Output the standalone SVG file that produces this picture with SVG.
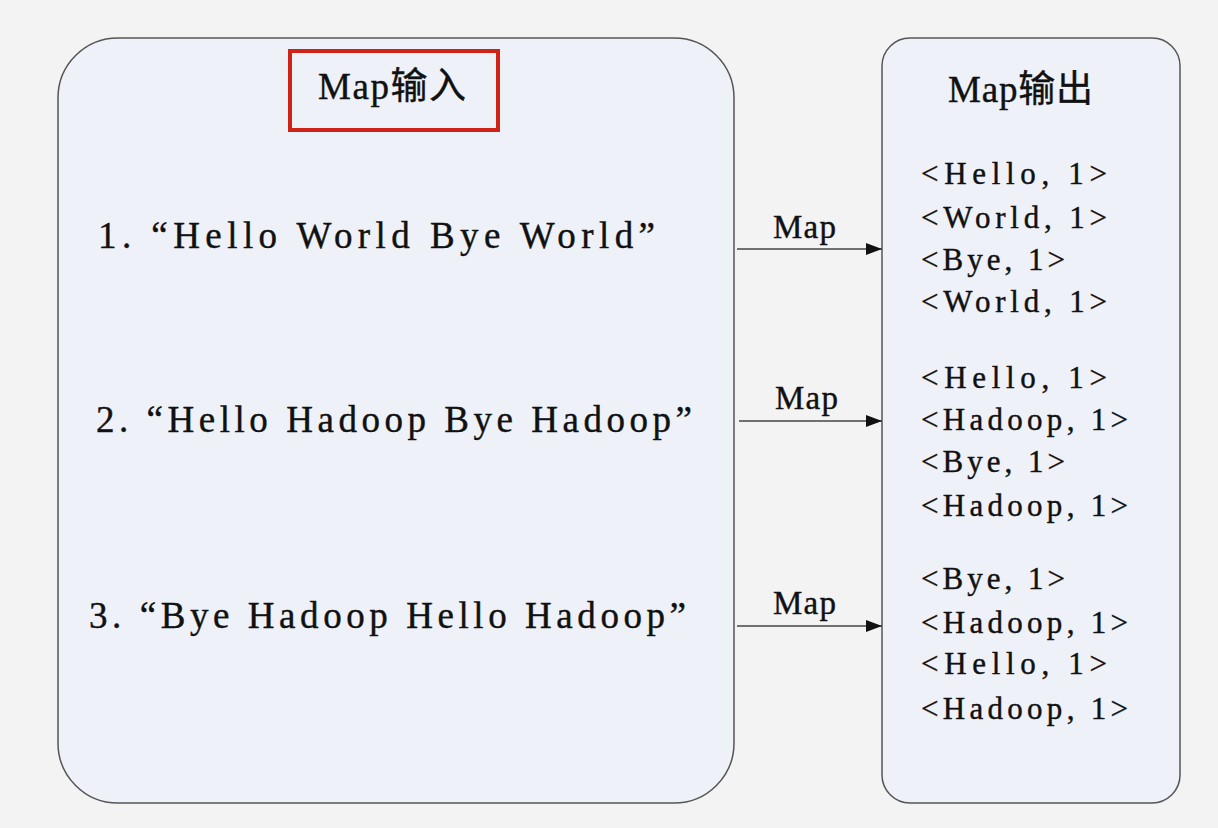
<svg xmlns="http://www.w3.org/2000/svg" width="1218" height="828" viewBox="0 0 1218 828">
<defs>
<style>
.box{fill:#eef2f8;stroke:#555;stroke-width:1.5}
.t{font-family:"Liberation Serif","Noto Sans CJK SC",serif;fill:#111;stroke:#111;stroke-width:0.4}
.in{font-size:37px}
.out{font-size:31px}
.lbl{font-size:33px}
.conn{stroke:#444;stroke-width:1.5;fill:none}
</style>
<marker id="arr" viewBox="0 0 16 12" refX="16" refY="6" markerWidth="16" markerHeight="12" markerUnits="userSpaceOnUse" orient="auto">
<path d="M0,0 L16,6 L0,12 Z" fill="#111"/>
</marker>
</defs>
<rect width="1218" height="828" fill="#f3f3f4"/>
<g id="input">
<rect class="box" x="58" y="38" width="676" height="765" rx="60" ry="60"/>
<rect x="290" y="51" width="208" height="79" fill="none" stroke="#d02318" stroke-width="4"/>
<text class="t in" x="318" y="99" textLength="148" lengthAdjust="spacing">Map输入</text>
<text class="t in" x="98" y="248" textLength="557" lengthAdjust="spacing">1. “Hello World Bye World”</text>
<text class="t in" x="96" y="432" textLength="596" lengthAdjust="spacing">2. “Hello Hadoop Bye Hadoop”</text>
<text class="t in" x="89" y="628" textLength="597" lengthAdjust="spacing">3. “Bye Hadoop Hello Hadoop”</text>
</g>
<g id="output">
<rect class="box" x="882" y="38" width="298" height="765" rx="28" ry="28"/>
<text class="t in" x="948" y="102" textLength="145" lengthAdjust="spacing">Map输出</text>
<g class="t out">
<text x="921" y="184" textLength="186" lengthAdjust="spacing">&lt;Hello, 1&gt;</text>
<text x="921" y="228" textLength="186" lengthAdjust="spacing">&lt;World, 1&gt;</text>
<text x="921" y="270" textLength="144" lengthAdjust="spacing">&lt;Bye, 1&gt;</text>
<text x="921" y="312" textLength="186" lengthAdjust="spacing">&lt;World, 1&gt;</text>
<text x="921" y="388" textLength="186" lengthAdjust="spacing">&lt;Hello, 1&gt;</text>
<text x="921" y="430" textLength="207" lengthAdjust="spacing">&lt;Hadoop, 1&gt;</text>
<text x="921" y="472" textLength="144" lengthAdjust="spacing">&lt;Bye, 1&gt;</text>
<text x="921" y="516" textLength="207" lengthAdjust="spacing">&lt;Hadoop, 1&gt;</text>
<text x="921" y="589" textLength="144" lengthAdjust="spacing">&lt;Bye, 1&gt;</text>
<text x="921" y="633" textLength="207" lengthAdjust="spacing">&lt;Hadoop, 1&gt;</text>
<text x="921" y="674" textLength="186" lengthAdjust="spacing">&lt;Hello, 1&gt;</text>
<text x="921" y="719" textLength="207" lengthAdjust="spacing">&lt;Hadoop, 1&gt;</text>
</g>
</g>
<g id="connectors">
<line class="conn" x1="737" y1="249" x2="882" y2="249" marker-end="url(#arr)"/>
<line class="conn" x1="739" y1="421" x2="882" y2="421" marker-end="url(#arr)"/>
<line class="conn" x1="737" y1="626" x2="882" y2="626" marker-end="url(#arr)"/>
<text class="t lbl" x="773" y="238" textLength="63" lengthAdjust="spacing">Map</text>
<text class="t lbl" x="775" y="409" textLength="63" lengthAdjust="spacing">Map</text>
<text class="t lbl" x="773" y="614" textLength="63" lengthAdjust="spacing">Map</text>
</g>
</svg>
